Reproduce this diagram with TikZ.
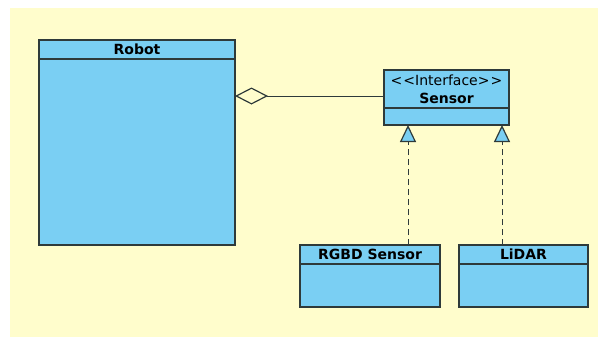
\documentclass[tikz,border=0pt]{standalone}
\usepackage{fontspec}
\setmainfont{DejaVu Sans}
\usepackage{xcolor}
\usepackage{tikz}
\usetikzlibrary{positioning,arrows.meta}
\definecolor{paper}{HTML}{FFFDCC}
\definecolor{classblue}{HTML}{7ACFF3}
\definecolor{edge}{HTML}{2E3A3A}

\begin{document}
\begin{tikzpicture}[x=1pt, y=-1pt, node distance=0pt, every node/.style={font=\fontsize{14}{18}\selectfont},
    head/.style={draw=edge,fill=classblue,line width=1.2pt,minimum height=19pt,inner sep=0pt,outer sep=0pt,align=center,font=\fontsize{14}{18}\selectfont\bfseries},
    body/.style={draw=edge,fill=classblue,line width=1.2pt,inner sep=0pt,outer sep=0pt},
    realize/.style={draw=edge,line width=1pt,dash pattern=on 6pt off 4pt,-{Triangle[open,fill=classblue,length=17pt,width=16pt,line width=1.2pt]}},
    aggr/.style={draw=edge,line width=1pt,-{Diamond[open,fill=paper,length=33pt,width=17pt,line width=1.2pt]}}]
    \useasboundingbox (0,0) rectangle (598,338);
    \fill[paper] (10,8) rectangle (598,337);
    % classes
    \node[head,minimum width=196pt] (robot) at (137,49.5) {Robot};
    \node[body,minimum width=196pt,minimum height=186pt,below=of robot] (robotbody) {};
    \node[head,minimum width=125pt,minimum height=38pt] (sensor) at (446.5,89)
        {{\mdseries {<}\kern1pt{<}Interface{>}\kern1pt{>}}\\Sensor};
    \node[body,minimum width=125pt,minimum height=17pt,below=of sensor] (sensorbody) {};
    \node[head,minimum width=140pt] (rgbd) at (370,254.5) {RGBD Sensor};
    \node[body,minimum width=140pt,minimum height=43pt,below=of rgbd] (rgbdbody) {};
    \node[head,minimum width=129pt] (lidar) at (523.5,254.5) {LiDAR};
    \node[body,minimum width=129pt,minimum height=43pt,below=of lidar] (lidarbody) {};
    % relations
    \draw[aggr] (sensor.west |- 0,96) -- (robotbody.east |- 0,96);
    \draw[realize] ([xshift=38pt]rgbd.north) -- ([xshift=38pt]rgbd.north |- sensorbody.south);
    \draw[realize] ([xshift=-21.5pt]lidar.north) -- ([xshift=-21.5pt]lidar.north |- sensorbody.south);
\end{tikzpicture}
\end{document}
